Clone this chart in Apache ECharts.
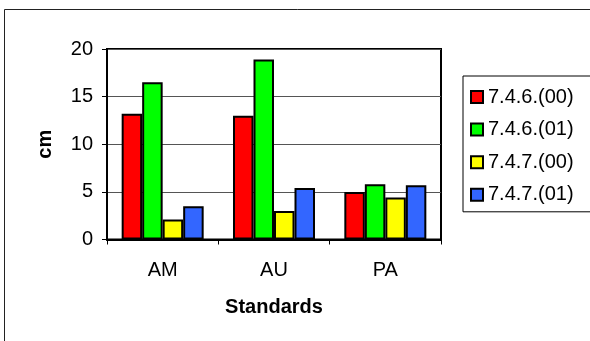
<!DOCTYPE html>
<html>
<head>
<meta charset="utf-8">
<script src="https://cdn.jsdelivr.net/npm/echarts@6/dist/echarts.min.js"></script>
<style>
  html, body { margin: 0; padding: 0; background: #fff; }
  #chart { width: 590px; height: 341px; }
</style>
</head>
<body>
<div id="chart"></div>
<script>
// Heights (cm) per standard, one array per edition
const categories = ['AM', 'AU', 'PA'];
const seriesNames = ['7.4.6.(00)', '7.4.6.(01)', '7.4.7.(00)', '7.4.7.(01)'];
const s746_00 = [13.2, 13.0, 5.0];
const s746_01 = [16.5, 18.9, 5.8];
const s747_00 = [2.1, 3.0, 4.4];
const s747_01 = [3.5, 5.4, 5.7];
const seriesColors = ['#FF0000', '#00FF00', '#FFFF00', '#3366FF'];

const valueArrays = [s746_00, s746_01, s747_00, s747_01];
const font = 'Liberation Sans, Arial, sans-serif';

const chart = echarts.init(document.getElementById('chart'));
chart.setOption({
  animation: false,
  backgroundColor: '#fff',
  textStyle: { fontFamily: font },
  graphic: [{
    type: 'rect',
    shape: { x: 4.5, y: 9.5, width: 700, height: 500 },
    style: { fill: null, stroke: '#222', lineWidth: 1 },
    silent: true,
    z: -10
  }],
  grid: {
    left: 107, top: 49, width: 334, height: 190.5,
    show: true, borderColor: '#000', borderWidth: 2, backgroundColor: 'transparent'
  },
  legend: {
    orient: 'vertical',
    left: 463, top: 76,
    padding: [11, 18, 7, 7],
    itemWidth: 12, itemHeight: 12, itemGap: 12.6, itemTextGap: 5,
    borderColor: '#000', borderWidth: 1, backgroundColor: '#fff',
    icon: 'rect',
    itemStyle: { borderColor: '#000', borderWidth: 2 },
    textStyle: { fontSize: 20, color: '#000', fontFamily: font, lineHeight: 20 },
    data: seriesNames
  },
  xAxis: {
    type: 'category',
    data: categories,
    name: 'Standards',
    nameLocation: 'middle',
    nameGap: 58,
    nameTextStyle: { fontSize: 20, fontWeight: 'bold', color: '#000', fontFamily: font, verticalAlign: 'top' },
    axisLine: { lineStyle: { color: '#000', width: 2 } },
    axisTick: { show: true, length: 5, lineStyle: { color: '#000', width: 1 } },
    axisLabel: { fontSize: 20, color: '#000', margin: 21, fontFamily: font }
  },
  yAxis: {
    type: 'value',
    min: 0, max: 20, interval: 5,
    name: 'cm',
    nameLocation: 'middle',
    nameGap: 52,
    nameRotate: 90,
    nameTextStyle: { fontSize: 20, fontWeight: 'bold', color: '#000', fontFamily: font },
    axisLine: { show: true, lineStyle: { color: '#000', width: 2 } },
    axisTick: { show: true, length: 5, lineStyle: { color: '#000', width: 1 } },
    axisLabel: { fontSize: 20, color: '#000', margin: 14, fontFamily: font },
    splitLine: { show: true, lineStyle: { color: '#555', width: 1 } }
  },
  series: seriesNames.map((name, i) => ({
    name: name,
    type: 'bar',
    data: valueArrays[i],
    barWidth: 20.5,
    barGap: '0%',
    itemStyle: { color: seriesColors[i], borderColor: '#000', borderWidth: 2 }
  }))
});
</script>
</body>
</html>
